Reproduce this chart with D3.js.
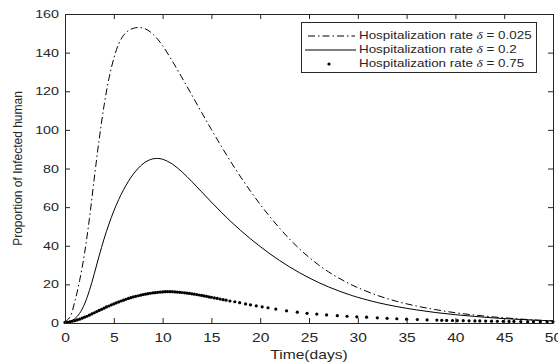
<!DOCTYPE html>
<html>
<head>
<meta charset="utf-8">
<script src="https://cdn.jsdelivr.net/npm/d3@7"></script>
<style>
  body { margin: 0; background: #fff; }
  svg { display: block; font-family: "Liberation Sans", Arial, sans-serif; }
  .wide { transform-box: fill-box; transform: scaleX(1.3); }
  .wide-c { transform-origin: center; }
  .wide-r { transform-origin: right center; }
  .wide-l { transform-origin: left center; transform: scaleX(1.34); }
</style>
</head>
<body>
<div id="okvir"></div>
<script>
// time grid of the two continuous curves (days)
const timeSmooth = [0, 0.5, 1, 1.5, 2, 2.5, 3, 3.5, 4, 4.5, 5, 5.5, 6, 6.5, 7, 7.5, 8, 8.5, 9, 9.5, 10,
  11, 12, 13, 14, 15, 16, 17, 18, 19, 20, 21, 22, 23, 24, 25, 26, 27, 28, 29, 30,
  32, 34, 36, 38, 40, 42, 44, 46, 48, 50]

// delta = 0.025 (dash-dot)
const infectedLow = [0.5, 3, 11, 22, 36, 54, 75, 95, 112.5, 126.5, 137, 144.5, 149, 151.4, 152.6, 153, 152.7, 151.6, 149.6, 146.9, 143.6,
  135.6, 126.9, 118, 109, 100.2, 91.6, 83.4, 75.6, 68.3, 61.4, 55, 49, 43.5, 38.5, 34, 30, 26.5, 23.4, 20.7, 18.3,
  14.3, 11.2, 8.8, 6.9, 5.3, 4.1, 3.1, 2.3, 1.6, 1.1]

// delta = 0.2 (solid)
const infectedMid = [0.5, 0.9, 2.2, 5, 9.8, 16.8, 25.5, 34.8, 43.5, 51.2, 58, 63.9, 69, 73.4, 77.1, 80.1, 82.5, 84.1, 85, 85.2, 84.8,
  82.3, 78.2, 73.2, 67.9, 62.6, 57.4, 52.5, 47.9, 43.6, 39.6, 35.8, 32.3, 29.1, 26.1, 23.4, 20.9, 18.7, 16.7, 14.9, 13.3,
  10.6, 8.5, 6.8, 5.4, 4.3, 3.4, 2.6, 2, 1.5, 1.1]

// delta = 0.75 (solver points, drawn as dots)
const timeDots = [0, 0.25, 0.5, 0.75, 1, 1.25, 1.5, 1.75, 2, 2.25, 2.5, 2.75, 3, 3.25, 3.5, 3.75, 4, 4.25, 4.5, 4.75,
  5, 5.25, 5.5, 5.75, 6, 6.25, 6.5, 6.75, 7, 7.25, 7.5, 7.75, 8, 8.25, 8.5, 8.75, 9, 9.25, 9.5, 9.75,
  10, 10.25, 10.5, 10.75, 11, 11.25, 11.5, 11.75, 12, 12.25, 12.5, 12.75, 13, 13.25, 13.5, 13.75, 14, 14.25, 14.5, 14.75,
  15, 15.3, 15.6, 15.9, 16.2, 16.5, 16.9, 17.4, 17.9, 18.5, 19, 19.6, 20.2, 20.8, 21.6, 22.7, 23.8, 24.8, 25.8, 26.8,
  27.9, 28.9, 29.9, 30.9, 32, 33, 34, 35, 36.1, 37.1, 38.1, 38.6, 39.1, 39.7, 40.2, 40.8, 41.4, 42, 42.5, 43.1,
  43.7, 44.3, 44.9, 45.5, 46, 46.7, 47.4, 48, 48.7, 49.4, 50]
const infectedHigh = [0.3, 0.4, 0.6, 0.9, 1.2, 1.6, 2, 2.5, 3, 3.5, 4.1, 4.7, 5.3, 5.9, 6.5, 7.1, 7.7, 8.3, 8.8, 9.4,
  9.9, 10.4, 10.9, 11.4, 11.8, 12.3, 12.7, 13.1, 13.5, 13.8, 14.1, 14.4, 14.7, 14.9, 15.2, 15.4, 15.6, 15.7, 15.9, 16,
  16.1, 16.2, 16.2, 16.2, 16.2, 16.1, 16, 15.9, 15.8, 15.6, 15.5, 15.3, 15.1, 14.9, 14.7, 14.5, 14.3, 14, 13.8, 13.5,
  13.3, 13, 12.7, 12.4, 12.1, 11.8, 11.4, 11, 10.5, 9.9, 9.4, 8.9, 8.4, 7.9, 7.2, 6.3, 5.6, 5, 4.6, 4.2,
  3.8, 3.5, 3.2, 3, 2.7, 2.4, 2.2, 2, 1.8, 1.6, 1.5, 1.4, 1.35, 1.3, 1.25, 1.2, 1.15, 1.1, 1.05, 1,
  0.95, 0.9, 0.85, 0.8, 0.8, 0.75, 0.7, 0.7, 0.65, 0.6, 0.6]

const legendLabels = ["Hospitalization rate", "Hospitalization rate", "Hospitalization rate"]
const legendDeltas = ["0.025", "0.2", "0.75"]

const xTicks = [0, 5, 10, 15, 20, 25, 30, 35, 40, 45, 50]
const yTicks = [0, 20, 40, 60, 80, 100, 120, 140, 160]

function crtaj() {

  // 1. dimensions
  const dim = {
    width: 558,
    height: 364,
    margin: { top: 14, right: 5, bottom: 41, left: 65 },
  }
  dim.w = dim.width - dim.margin.left - dim.margin.right
  dim.h = dim.height - dim.margin.top - dim.margin.bottom

  const ink = "#262626"

  // 2. canvas
  const svg = d3.select("#okvir").append("svg")
      .attr("width", dim.width)
      .attr("height", dim.height)

  const g = svg.append("g")
      .attr("transform", `translate(${dim.margin.left},${dim.margin.top})`)

  // 3. scales
  const x = d3.scaleLinear().domain([0, 50]).range([0, dim.w])
  const y = d3.scaleLinear().domain([0, 160]).range([dim.h, 0])

  // 4. data
  const low = timeSmooth.map((t, i) => [t, infectedLow[i]])
  const mid = timeSmooth.map((t, i) => [t, infectedMid[i]])
  const high = timeDots.map((t, i) => [t, infectedHigh[i]])

  const line = d3.line()
    .x(d => x(d[0]))
    .y(d => y(d[1]))
    .curve(d3.curveCatmullRom.alpha(0.5))

  g.append("path")
      .attr("d", line(low))
      .attr("fill", "none")
      .attr("stroke", "#000")
      .attr("stroke-width", 1)
      .attr("stroke-dasharray", "7,3,1.5,3")

  g.append("path")
      .attr("d", line(mid))
      .attr("fill", "none")
      .attr("stroke", "#000")
      .attr("stroke-width", 1)

  g.append("g").selectAll("circle")
    .data(high)
    .join("circle")
      .attr("cx", d => x(d[0]))
      .attr("cy", d => y(d[1]))
      .attr("r", 1.6)
      .attr("fill", "#000")

  // 5. axes (box with inward ticks)
  const styleAxis = sel => {
    sel.selectAll("path, line").attr("stroke", ink)
    sel.selectAll("text").attr("fill", ink)
  }

  g.append("g")
      .attr("transform", `translate(0,${dim.h})`)
      .call(d3.axisBottom(x).tickValues(xTicks).tickSizeInner(-5).tickSizeOuter(0).tickPadding(10))
      .call(styleAxis)
      .call(a => a.selectAll("text").attr("font-size", 12).attr("font-family", null).attr("class", "wide wide-c"))

  g.append("g")
      .call(d3.axisTop(x).tickValues(xTicks).tickSizeInner(-5).tickSizeOuter(0).tickFormat(""))
      .call(styleAxis)

  g.append("g")
      .call(d3.axisLeft(y).tickValues(yTicks).tickSizeInner(-5).tickSizeOuter(0).tickPadding(6))
      .call(styleAxis)
      .call(a => a.selectAll("text").attr("font-size", 11).attr("font-family", null).attr("class", "wide wide-r"))

  g.append("g")
      .attr("transform", `translate(${dim.w},0)`)
      .call(d3.axisRight(y).tickValues(yTicks).tickSizeInner(-5).tickSizeOuter(0).tickFormat(""))
      .call(styleAxis)

  // axis titles
  svg.append("text")
      .attr("class", "wide wide-c")
      .attr("x", dim.margin.left + dim.w / 2)
      .attr("y", 359)
      .attr("text-anchor", "middle")
      .attr("font-size", 12)
      .attr("fill", ink)
      .text("Time(days)")

  svg.append("text")
      .attr("transform", `translate(22,${dim.margin.top + dim.h / 2}) scale(1.12,1) rotate(-90)`)
      .attr("text-anchor", "middle")
      .attr("font-size", 12)
      .attr("fill", ink)
      .text("Proportion of Infected human")

  // 6. legend
  const legend = svg.append("g")
  legend.append("rect")
      .attr("x", 301.5)
      .attr("y", 22.5)
      .attr("width", 235)
      .attr("height", 50)
      .attr("fill", "#fff")
      .attr("stroke", ink)
      .attr("stroke-width", 1)

  const rowY = d3.scalePoint().domain(d3.range(legendLabels.length)).range([36, 64])

  legendLabels.forEach((lab, i) => {
    const yy = rowY(i)
    if (i === 0) {
      legend.append("line")
          .attr("x1", 308).attr("x2", 355).attr("y1", yy).attr("y2", yy)
          .attr("stroke", "#000").attr("stroke-dasharray", "7,3,1.5,3")
    } else if (i === 1) {
      legend.append("line")
          .attr("x1", 305).attr("x2", 356).attr("y1", yy).attr("y2", yy)
          .attr("stroke", "#000")
    } else {
      legend.append("circle")
          .attr("cx", 329).attr("cy", yy).attr("r", 1.6).attr("fill", "#000")
    }
    const t = legend.append("text")
        .attr("class", "wide wide-l")
        .attr("x", 359)
        .attr("y", yy)
        .attr("dy", "0.35em")
        .attr("font-size", 10)
        .attr("fill", ink)
    t.append("tspan").text(lab + " ")
    t.append("tspan")
        .attr("font-family", "'Liberation Serif', serif")
        .attr("font-style", "italic")
        .text("δ")
    t.append("tspan").text(" = " + legendDeltas[i])
  })
}
crtaj()
</script>
</body>
</html>
